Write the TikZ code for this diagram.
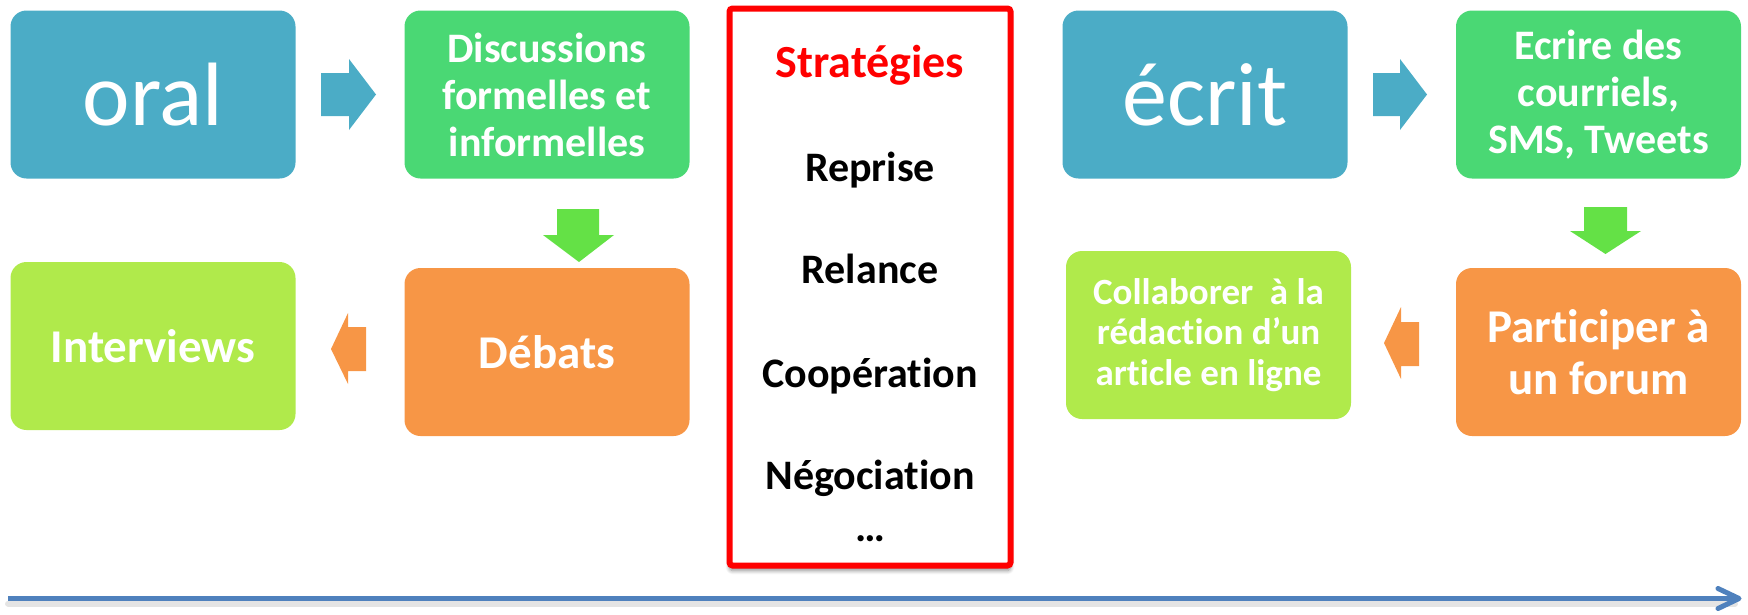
\documentclass[tikz,border=0pt]{standalone}
\usepackage{fontspec}
\setmainfont{Carlito}[Ligatures={NoCommon}]
\usetikzlibrary{shadows.blur}
\definecolor{cblue}{HTML}{4BACC6}
\definecolor{cgreen}{RGB}{74,216,116}
\definecolor{corange}{HTML}{F79646}
\definecolor{clime}{RGB}{176,234,75}
\definecolor{carrowgreen}{RGB}{100,225,70}
\definecolor{cline}{HTML}{4F81BD}
\begin{document}
\begin{tikzpicture}[x=1pt,y=-1pt,
  box/.style={rounded corners=16pt, minimum width=285pt, minimum height=168pt, inner sep=0pt, text=white, align=center},
  big/.style={font=\fontsize{90pt}{100pt}\selectfont},
  mid/.style={font=\fontsize{42pt}{47pt}\selectfont\bfseries},
  large/.style={font=\fontsize{47pt}{52pt}\selectfont\bfseries},
  small/.style={font=\fontsize{37pt}{40.5pt}\selectfont\bfseries},
  strat/.style={anchor=base, font=\fontsize{42pt}{47pt}\selectfont\bfseries, text=black}]
\useasboundingbox (0,0) rectangle (1748,614);

% boxes
\node[box, big, fill=cblue] (oral) at (153,94.5) {oral};
\node[box, mid, fill=cgreen] (disc) at (547,94.5) {Discussions\\formelles et\\informelles};
\node[box, large, fill=corange] (debats) at (547,352) {Débats};
\node[box, large, fill=clime] (interv) at (153,346) {Interviews};

\node[box, big, fill=cblue] (ecrit) at (1205,94.5) {écrit};
\node[box, mid, fill=cgreen] (ecrire) at (1598.5,94.5) {Ecrire des\\courriels,\\SMS, Tweets};
\node[box, large, fill=corange] (forum) at (1598.5,352) {Participer à\\un forum};
\node[box, small, fill=clime] (collab) at (1208.5,335) {Collaborer~ à la\\rédaction d’un\\article en ligne};

% strategies box
\node[draw=red, line width=6pt, fill=white, rounded corners=3pt, minimum width=281pt, minimum height=557pt, inner sep=0pt,
  blur shadow={shadow xshift=0pt, shadow yshift=-5pt, shadow blur radius=4pt, shadow blur steps=8, shadow opacity=45}] (stratbox) at (870,287) {};
\node[strat, text=red, font=\fontsize{46pt}{50pt}\selectfont\bfseries] (t0) at (870,77) {Stratégies};
\node[strat] (t1) at (870,181) {Reprise};
\node[strat] (t2) at (870,283) {Relance};
\node[strat] (t3) at (870,387) {Coopération};
\node[strat] (t4) at (870,489) {Négociation};
\node[strat] (t5) at (870,541) {…};

% block arrows
\fill[cblue] (321,73) -- (349,73) -- (349,59) -- (376,94.5) -- (349,130) -- (349,116) -- (321,116) -- cycle;
\fill[cblue] (1373,73) -- (1400,73) -- (1400,59) -- (1427,94.5) -- (1400,130) -- (1400,116) -- (1373,116) -- cycle;
\fill[carrowgreen] (557,209) -- (599,209) -- (599,235) -- (614,235) -- (579,262) -- (543,235) -- (557,235) -- cycle;
\fill[carrowgreen] (1584,207) -- (1627,207) -- (1627,231) -- (1641,231) -- (1605.5,254) -- (1570,231) -- (1584,231) -- cycle;
\fill[corange] (366,327) -- (348,327) -- (348,313) -- (331,349) -- (348,384) -- (348,371) -- (366,371) -- cycle;
\fill[corange] (1419,322) -- (1401,322) -- (1401,307) -- (1384,343) -- (1401,379) -- (1401,366) -- (1419,366) -- cycle;

% timeline
\coordinate (ts) at (8,598.5);
\coordinate (te) at (1739,598.5);
\draw[black!30, line width=6pt, opacity=0.35, line cap=round] ([yshift=-5pt]ts) -- ([xshift=-4pt,yshift=-5pt]te);
\draw[cline, line width=5.5pt] (ts) -- ([xshift=-3pt]te);
\draw[cline, line width=5pt, line cap=round, line join=round] ([xshift=-21pt,yshift=10pt]te) -- (te) -- ([xshift=-21pt,yshift=-10pt]te);
\end{tikzpicture}
\end{document}
